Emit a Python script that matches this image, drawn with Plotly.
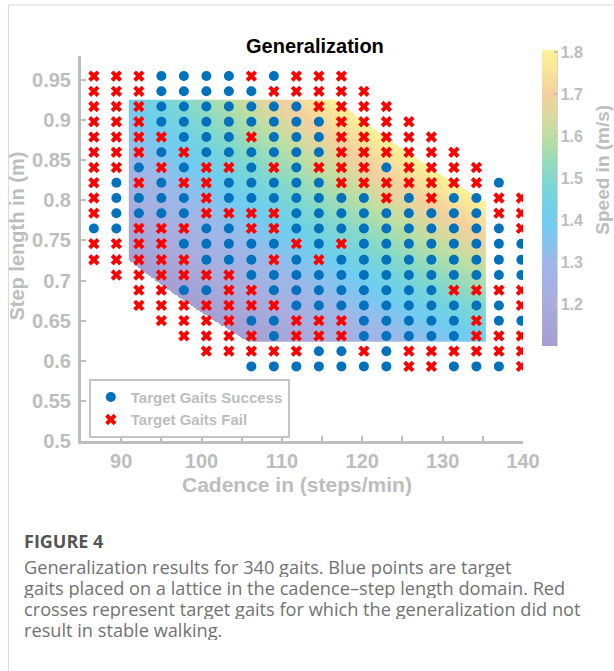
import numpy as np
import plotly.graph_objects as go

# ---------------- data ----------------
CADENCE = [86.6, 89.4, 92.2, 95.0, 97.8, 100.6, 103.4, 106.2, 109.0, 111.8,
           114.6, 117.4, 120.2, 123.0, 125.8, 128.6, 131.4, 134.2, 137.0, 139.8]
STEP_LENGTH = [0.955, 0.936, 0.917, 0.898, 0.879, 0.860, 0.841, 0.822, 0.803, 0.784,
               0.765, 0.746, 0.726, 0.707, 0.688, 0.669, 0.650, 0.631, 0.612, 0.593]
# one string per step length row, one char per cadence column:
# O = success, X = fail, . = not tested
OUTCOME = [
    "XXXOOOOXOXXX........",
    "XXXOOOOOXXXXX.......",
    "XXXOOOOOOOXXXX......",
    "XXXOOOOOOOOXXXX.....",
    "XXXXOOOXOOOXXXXX....",
    "XXXOXOOOOOOXXXXXX...",
    "XXOXOXXOXOXXXOXXXX..",
    "XOXOXXOOOOOXXXXXXXO.",
    "XOOOOXOOOOOOOXOXOOXX",
    "XOOOOXXXXOOOOOOOOOXX",
    "OOXXXOOXXOOOOOOOOOOX",
    "XXXXOOOOOXOXOOOOOOOO",
    "XXXXXOOOXOXOOOOOOOOO",
    ".XXXXXXOOOOOOOOOOOOO",
    "..XXOOXXOOOOOOOOXXXX",
    "..XXXXXXXOOOOOOOOOOX",
    "...XXXXOOXXXOOOOOXOO",
    "....XXXXOXXXOOOOOXXX",
    ".....XXXXXOOXOXXXXXX",
    ".......OOOOOOOXXOOOX",
]
SPEED_CADENCE_RANGE = (91.0, 135.3)
SPEED_STEP_RANGE = (0.624, 0.925)
SPEED_LIMITS = (1.1, 1.8)
SPEED_CMAX = 1.805
SPEED_TICKS = [1.2, 1.3, 1.4, 1.5, 1.6, 1.7, 1.8]
X_TICKS = [90, 95, 100, 105, 110, 115, 120, 125, 130, 135, 140]
X_TICK_LABELS = ["90", "", "100", "", "110", "", "120", "", "130", "", "140"]
Y_TICKS = [0.5, 0.55, 0.6, 0.65, 0.7, 0.75, 0.8, 0.85, 0.9, 0.95]
Y_TICK_LABELS = ["0.5", "0.55", "0.6", "0.65", "0.7", "0.75", "0.8", "0.85", "0.9", "0.95"]
CAPTION = [
    "Generalization results for 340 gaits. Blue points are target",
    "gaits placed on a lattice in the cadence\u2013step length domain. Red",
    "crosses represent target gaits for which the generalization did not",
    "result in stable walking.",
]

# ---------------- derived marks ----------------
succ_x, succ_y, fail_x, fail_y = [], [], [], []
for s, row in zip(STEP_LENGTH, OUTCOME):
    for c, ch in zip(CADENCE, row):
        if ch == "O":
            succ_x.append(c); succ_y.append(s)
        elif ch == "X":
            fail_x.append(c); fail_y.append(s)

gx = np.arange(SPEED_CADENCE_RANGE[0], SPEED_CADENCE_RANGE[1] + 1e-9, 0.1)
gy = np.arange(SPEED_STEP_RANGE[0], SPEED_STEP_RANGE[1] + 1e-9, 0.001)
CX, SY = np.meshgrid(gx, gy)
Z = CX * SY / 60.0
Z[(Z < SPEED_LIMITS[0]) | (Z > SPEED_LIMITS[1])] = np.nan

colorscale = [
    [0.000, "#a59fd3"],
    [0.142, "#a8acdd"],
    [0.284, "#9db8e8"],
    [0.355, "#85c3ee"],
    [0.426, "#6fcdf0"],
    [0.496, "#74d3e0"],
    [0.567, "#82d8cc"],
    [0.638, "#9edcb6"],
    [0.709, "#bddea2"],
    [0.780, "#dcd89e"],
    [0.851, "#f4d09f"],
    [0.922, "#f8e29b"],
    [1.000, "#fbf596"],
]

# ---------------- geometry ----------------
W, H = 614, 671
L, R, T, B = 80.7, 523.3, 56.0, 440.7
GRAY = "#bdbdbd"
FONT = "Liberation Sans, Arial, sans-serif"
CAP_FONT = "Open Sans, sans-serif"


def px(x):
    return (x - L) / (R - L)


def py(y):
    return (B - y) / (B - T)


fig = go.Figure()
fig.add_trace(go.Heatmap(
    x=gx, y=gy, z=Z, zmin=SPEED_LIMITS[0], zmax=SPEED_CMAX,
    colorscale=colorscale, hoverinfo="skip", showscale=True,
    colorbar=dict(
        x=px(542), xanchor="left", y=py(346), yanchor="bottom",
        len=(346 - 50) / (B - T), lenmode="fraction",
        thickness=15, thicknessmode="pixels", outlinewidth=0,
        xpad=0, ypad=0, ticks="inside", ticklen=3, tickwidth=2,
        tickcolor=GRAY, tickvals=SPEED_TICKS,
        tickfont=dict(family=FONT, size=16, color=GRAY, weight="bold"),
    ),
))
fig.add_trace(go.Scatter(
    x=succ_x, y=succ_y, mode="markers", name="Target Gaits Success",
    marker=dict(symbol="circle", size=10, color="#0072bd"),
))
fig.add_trace(go.Scatter(
    x=fail_x, y=fail_y, mode="markers", name="Target Gaits Fail",
    marker=dict(symbol="x", size=10, color="#ff0000", line=dict(width=0)),
))

axis_common = dict(
    showline=True, linecolor=GRAY, linewidth=3, showgrid=False, zeroline=False,
    ticks="inside", ticklen=5, tickwidth=2, tickcolor=GRAY, mirror=False,
    tickfont=dict(family=FONT, size=20, color=GRAY, weight="bold"),
)
fig.update_xaxes(range=[85, 140], tickvals=X_TICKS, ticktext=X_TICK_LABELS, **axis_common)
fig.update_yaxes(range=[0.5, 0.98], tickvals=Y_TICKS, ticktext=Y_TICK_LABELS,
                 ticklabelstandoff=3, **axis_common)

shapes = [
    dict(type="line", xref="paper", yref="paper", x0=px(557), x1=px(557),
         y0=py(346), y1=py(50), line=dict(color=GRAY, width=2)),
    dict(type="line", xref="paper", yref="paper", x0=px(8), x1=px(8),
         y0=py(5), y1=py(671), line=dict(color="#d6d6d6", width=1)),
    dict(type="line", xref="paper", yref="paper", x0=px(8), x1=px(614),
         y0=py(5), y1=py(5), line=dict(color="#d6d6d6", width=1)),
]

ann = [
    dict(text="Generalization", x=px(315), y=py(46), xanchor="center", yanchor="middle",
         font=dict(family=FONT, size=20, color="black", weight="bold")),
    dict(text="Cadence in (steps/min)", x=px(297), y=py(484), xanchor="center", yanchor="middle",
         font=dict(family=FONT, size=21, color=GRAY, weight="bold")),
    dict(text="Step length in (m)", x=px(17), y=py(236), xanchor="center", yanchor="middle",
         textangle=-90, font=dict(family=FONT, size=20, color=GRAY, weight="bold")),
    dict(text="Speed in (m/s)", x=px(602), y=py(170), xanchor="center", yanchor="middle",
         textangle=-90, font=dict(family=FONT, size=19, color=GRAY, weight="bold")),
    dict(text="FIGURE 4", x=px(22), y=py(541), xanchor="left", yanchor="middle",
         font=dict(family=CAP_FONT, size=18, color="#555555", weight="bold")),
]
for i, line in enumerate(CAPTION):
    ann.append(dict(text=line, x=px(22), y=py(566.5 + 21 * i), xanchor="left", yanchor="middle",
                    height=21, valign="middle",
                    font=dict(family=CAP_FONT, size=18.2, color="#727272")))
for a in ann:
    a.update(xref="paper", yref="paper", showarrow=False)

fig.update_layout(
    width=W, height=H,
    margin=dict(l=L, r=W - R, t=T, b=H - B, pad=0),
    paper_bgcolor="white", plot_bgcolor="white",
    showlegend=True,
    legend=dict(
        x=px(88.5), y=py(378.5), xanchor="left", yanchor="top",
        bordercolor="#c4c4c4", borderwidth=2, bgcolor="white",
        font=dict(family=FONT, size=15, color=GRAY, weight="bold"),
        itemwidth=30, tracegroupgap=0,
    ),
    shapes=shapes, annotations=ann,
)

fig.write_html(
    "out.html",
    config={"displayModeBar": False},
    post_script="document.body.style.margin='0px';document.body.style.padding='0px';",
)
